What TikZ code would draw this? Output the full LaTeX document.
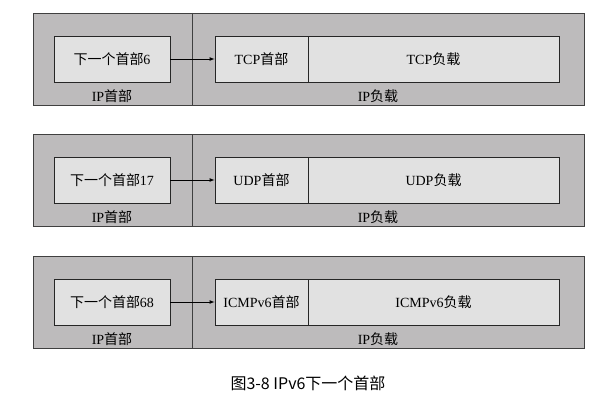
\documentclass[tikz,border=0pt]{standalone}
\usepackage{fontspec}
\setmainfont{Liberation Serif}
\newfontfamily\cjk{Noto Sans CJK SC}
\newcommand{\zh}[1]{{\cjk #1}}
\definecolor{outerc}{HTML}{BDBBBC}
\definecolor{innerc}{HTML}{E1E1E1}
\begin{document}
\begin{tikzpicture}[x=1pt,y=-1pt,
  outer/.style={draw=black!75,fill=outerc,line width=0.8pt},
  inner/.style={draw=black!85,fill=innerc,line width=0.8pt},
  txt/.style={font=\fontsize{14}{16}\selectfont},
  arr/.style={-latex,line width=0.7pt}]
\useasboundingbox (0,0) rectangle (616,404);
\foreach \t/\n/\hd/\pl/\nm in {13/6/TCP/TCP/a,134/17/UDP/UDP/b,256/68/ICMPv6/ICMPv6/c}{
  \draw[outer] (33,\t) rectangle (584,\t+92);
  \draw[black!75,line width=0.8pt] (192,\t) -- (192,\t+92);
  \node[inner,minimum width=116pt,minimum height=46pt,txt] (l\nm) at (112,\t+46) {\zh{下一个首部}\n};
  \node[inner,minimum width=93pt,minimum height=46pt,txt,inner sep=0pt] (h\nm) at (261.5,\t+46) {\hd\zh{首部}};
  \node[inner,minimum width=251pt,minimum height=46pt,txt] (p\nm) at (433.5,\t+46) {\pl\zh{负载}};
  \node[txt] (il\nm) at (112,\t+83) {IP\zh{首部}};
  \node[txt] (pl\nm) at (378,\t+83) {IP\zh{负载}};
  \draw[arr] (l\nm.east) -- (h\nm.west);
}
\node[font=\cjk\fontsize{16}{19}\selectfont] (cap) at (308,383) {图3-8 IPv6下一个首部};
\end{tikzpicture}
\end{document}
